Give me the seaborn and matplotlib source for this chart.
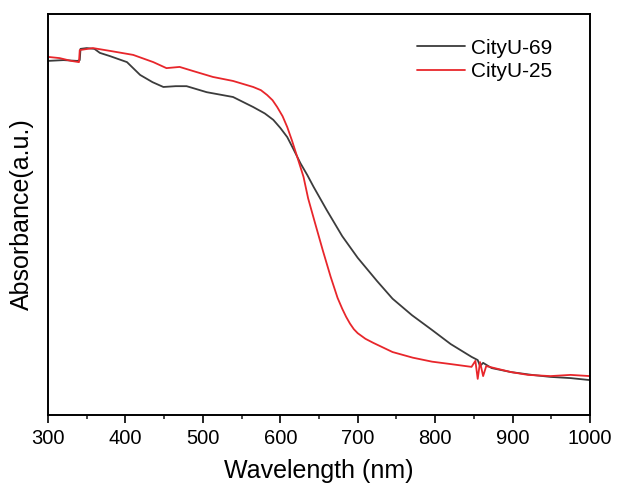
import numpy as np
import pandas as pd
import seaborn as sns
import matplotlib
matplotlib.use("Agg")
import matplotlib.pyplot as plt
from matplotlib.ticker import MultipleLocator

# ================================
# Data
# ================================
wl_69 = [300, 320, 338, 341, 342, 350, 360, 367, 380, 402, 419, 435, 449, 465, 479,
         505, 539, 565, 580, 591, 600, 609, 617, 626, 635, 643, 660, 680, 700, 725,
         745, 770, 796, 820, 847, 855, 858, 862, 873, 898, 925, 949, 975, 1000]
abs_69 = [0.883, 0.885, 0.883, 0.885, 0.913, 0.915, 0.913, 0.903, 0.895, 0.880, 0.848,
          0.830, 0.818, 0.820, 0.820, 0.805, 0.793, 0.768, 0.752, 0.736, 0.716, 0.693,
          0.663, 0.628, 0.598, 0.569, 0.511, 0.446, 0.392, 0.334, 0.290, 0.249, 0.212,
          0.177, 0.145, 0.137, 0.122, 0.130, 0.117, 0.107, 0.100, 0.095, 0.092, 0.087]

wl_25 = [300, 315, 330, 340, 341, 358, 380, 410, 436, 453, 470, 487, 513, 539, 565,
         575, 583, 590, 596, 603, 609, 615, 622, 630, 636, 645, 655, 665, 674, 680,
         685, 690, 695, 700, 710, 720, 745, 771, 796, 820, 847, 852, 855, 858, 862,
         866, 898, 920, 949, 975, 1000]
abs_25 = [0.893, 0.890, 0.883, 0.880, 0.910, 0.915, 0.908, 0.898, 0.880, 0.865, 0.868,
          0.858, 0.843, 0.833, 0.818, 0.810, 0.798, 0.785, 0.768, 0.745, 0.718, 0.685,
          0.643, 0.594, 0.540, 0.478, 0.410, 0.345, 0.292, 0.265, 0.245, 0.228, 0.214,
          0.204, 0.190, 0.180, 0.157, 0.143, 0.133, 0.127, 0.120, 0.135, 0.090, 0.132,
          0.097, 0.122, 0.107, 0.100, 0.097, 0.100, 0.097]

samples = ["CityU-69", "CityU-25"]
colors = ["#3c3c3c", "#e8262b"]

df = pd.concat([
    pd.DataFrame({"wl": wl_69, "a": abs_69, "sample": samples[0]}),
    pd.DataFrame({"wl": wl_25, "a": abs_25, "sample": samples[1]}),
])

# ================================
# Plot
# ================================
sns.set_style("ticks")
plt.rcParams["font.family"] = ["Liberation Sans", "DejaVu Sans"]
plt.rcParams["text.color"] = "black"
plt.rcParams["axes.labelcolor"] = "black"

fig = plt.figure(figsize=(6.17, 4.91), dpi=100)
ax = fig.add_axes([0.0778, 0.1548, 0.8784, 0.8167])

sns.lineplot(data=df, x="wl", y="a", hue="sample", palette=colors,
             hue_order=samples, linewidth=1.3, ax=ax, sort=False)

ax.set_xlim(300, 1000)
ax.set_ylim(0, 1)
ax.xaxis.set_major_locator(MultipleLocator(100))
ax.xaxis.set_minor_locator(MultipleLocator(50))
ax.set_yticks([])
ax.tick_params(axis="x", which="major", direction="out", length=6, width=1.2,
               labelsize=14.5, pad=4, colors="black")
ax.tick_params(axis="x", which="minor", direction="out", length=3, width=1.2)
for s in ax.spines.values():
    s.set_linewidth(1.4)
    s.set_color("black")

ax.set_xlabel("Wavelength (nm)", fontsize=18, labelpad=8)
ax.set_ylabel("Absorbance(a.u.)", fontsize=18, labelpad=10)

ax.legend(title=None, loc="upper right", frameon=False, fontsize=15,
          handlelength=2.3, handletextpad=0.3, labelspacing=0.2,
          bbox_to_anchor=(0.965, 0.985))

plt.savefig("out.png", dpi=100)
plt.close()
